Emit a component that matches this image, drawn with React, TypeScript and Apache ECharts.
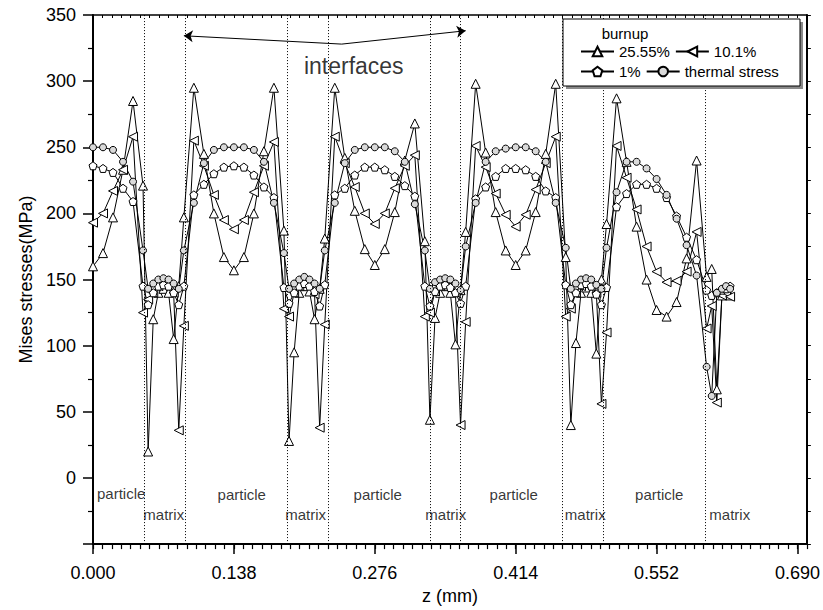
import React, { useEffect, useRef } from "react";
import * as echarts from "echarts";

const FONT = "'Liberation Sans', Arial, Helvetica, sans-serif";

// position along z (mm)
const zMm = [
  0, 0.0098, 0.0196, 0.0294, 0.0392,
  0.049, 0.054, 0.059, 0.064, 0.069, 0.074, 0.079, 0.084, 0.089,
  0.0988, 0.1086, 0.1184, 0.1282, 0.138, 0.1478, 0.1576, 0.1674, 0.1772,
  0.187, 0.192, 0.197, 0.202, 0.207, 0.212, 0.217, 0.222, 0.227,
  0.2368, 0.2466, 0.2564, 0.2662, 0.276, 0.2858, 0.2956, 0.3054, 0.3152,
  0.325, 0.33, 0.335, 0.34, 0.345, 0.35, 0.355, 0.36, 0.365,
  0.3748, 0.3846, 0.3944, 0.4042, 0.414, 0.4238, 0.4336, 0.4434, 0.4532,
  0.463, 0.468, 0.473, 0.478, 0.483, 0.488, 0.493, 0.498, 0.503,
  0.5128, 0.5226, 0.5324, 0.5422, 0.552, 0.5618, 0.5716, 0.5814, 0.5912,
  0.601, 0.606, 0.611, 0.616, 0.62, 0.624,
];

// burnup 25.55%
const burnup2555 = [
  160, 170, 197, 233, 285,
  221, 20, 120, 140, 143, 140, 105, 145, 197,
  295, 245, 200, 167, 157, 167, 200, 247, 295,
  187, 28, 95, 140, 145, 141, 120, 143, 181,
  295, 242, 202, 173, 161, 173, 201, 240, 268,
  179, 44, 121, 140, 145, 140, 101, 142, 186,
  298, 246, 201, 172, 161, 172, 201, 245, 298,
  167, 40, 102, 140, 144, 140, 94, 150, 192,
  287, 239, 190, 150, 127, 122, 133, 166, 240,
  152, 158, 67, 138, 140, 138,
];

// burnup 10.1%
const burnup101 = [
  193, 200, 217, 233, 258,
  125, 135, 140, 145, 147, 145, 140, 36, 115,
  255, 236, 214, 195, 188, 195, 216, 236, 254,
  128, 122, 140, 145, 147, 145, 139, 38, 116,
  258, 238, 220, 200, 192, 200, 219, 236, 244,
  122, 125, 141, 145, 147, 145, 140, 40, 118,
  251, 235, 215, 199, 190, 199, 218, 238, 258,
  122, 128, 140, 145, 146, 145, 140, 56, 110,
  251, 227, 203, 175, 156, 148, 149, 156, 186,
  113, 130, 57, 138, 140, 137,
];

// burnup 1%
const burnup1 = [
  236, 234, 231, 219, 209,
  145, 131, 140, 145, 146, 145, 140, 131, 145,
  214, 222, 230, 235, 236, 235, 229, 220, 212,
  144, 132, 140, 145, 147, 145, 141, 130, 146,
  214, 219, 229, 235, 235, 233, 228, 221, 213,
  145, 130, 141, 145, 146, 144, 140, 132, 145,
  211, 220, 228, 234, 234, 233, 228, 217, 212,
  146, 131, 140, 146, 147, 145, 139, 131, 144,
  205, 215, 222, 222, 219, 212, 198, 182, 165,
  142, 138, 140, 142, 143, 145,
];

// thermal stress
const thermal = [
  250, 250, 248, 239, 224,
  172, 143, 147, 150, 151, 150, 147, 143, 172,
  208, 238, 248, 250, 250, 250, 248, 239, 208,
  170, 143, 147, 150, 152, 150, 147, 143, 172,
  208, 238, 248, 250, 250, 250, 247, 239, 207,
  172, 143, 148, 150, 151, 150, 147, 142, 175,
  208, 239, 247, 249, 250, 250, 247, 239, 208,
  174, 143, 147, 150, 151, 150, 146, 143, 174,
  216, 239, 239, 234, 226, 214, 196, 176, 153,
  84, 62, 140, 143, 145, 143,
];

const seriesNames = ["25.55%", "10.1%", "1%", "thermal stress"];
const interfaceZ = [0.049, 0.089, 0.187, 0.227, 0.325, 0.365, 0.463, 0.503, 0.601];
const xMajorTicks = [0, 0.138, 0.276, 0.414, 0.552, 0.69];
const particleLabelPos = [
  [0.0276, -11.5],
  [0.1457, -12.5],
  [0.2789, -12.5],
  [0.4121, -12.5],
  [0.5546, -12.5],
];
const matrixLabelPos = [
  [0.0693, -27.4],
  [0.2083, -27.4],
  [0.3455, -27.4],
  [0.4821, -27.4],
  [0.6237, -28],
];
const interfacesLabelPos = [0.2554, 311.5];
const arrowPts = [
  [0.089, 334.3],
  [0.2436, 328],
  [0.365, 338.1],
];

const PENTAGON = "path://M0,-10L9.51,-3.09L5.88,8.09L-5.88,8.09L-9.51,-3.09Z";

function makeLine(name: string, values: number[], symbol: string, size: number, fill: string, rotate = 0) {
  return {
    name,
    type: "line",
    data: zMm.map((z, i) => [z, values[i]]),
    symbol,
    symbolSize: size,
    symbolRotate: rotate,
    showAllSymbol: true,
    lineStyle: { color: "#000", width: 1 },
    itemStyle: { color: fill, borderColor: "#000", borderWidth: 1 },
    emphasis: { disabled: true },
    z: 3,
  };
}

export default function App() {
  const ref = useRef<HTMLDivElement>(null);
  useEffect(() => {
    if (!ref.current) return;
    const chart = echarts.init(ref.current, undefined, { renderer: "svg" });
    const axisText = { color: "#000", fontSize: 18, fontFamily: FONT };
    const option: any = {
      animation: false,
      backgroundColor: "#fff",
      grid: { left: 93, right: 15, top: 15, bottom: 65 },
      xAxis: [
        {
          type: "value",
          position: "bottom",
          min: 0,
          max: 0.6992,
          name: "z (mm)",
          nameLocation: "middle",
          nameGap: 42,
          nameTextStyle: { ...axisText },
          axisLine: { show: true, onZero: false, lineStyle: { color: "#000", width: 2 } },
          axisTick: { show: true, customValues: xMajorTicks, length: 10, lineStyle: { color: "#000", width: 1.5 } },
          axisLabel: {
            show: true,
            customValues: xMajorTicks,
            formatter: (v: number) => v.toFixed(3),
            margin: 20,
            ...axisText,
          },
          splitLine: { show: false },
        },
        {
          type: "value",
          position: "bottom",
          min: 0,
          max: 0.6992,
          interval: 0.0092,
          axisLine: { show: false, onZero: false },
          axisTick: { show: true, length: 5, lineStyle: { color: "#000", width: 1.2 } },
          axisLabel: { show: false },
          splitLine: { show: false },
        },
        {
          type: "value",
          position: "top",
          min: 0,
          max: 0.6992,
          interval: 0.0092,
          axisLine: { show: true, onZero: false, lineStyle: { color: "#000", width: 1.5 } },
          axisTick: { show: true, inside: true, length: 3, lineStyle: { color: "#000", width: 1 } },
          axisLabel: { show: false },
          splitLine: { show: false },
        },
      ],
      yAxis: [
        {
          type: "value",
          position: "left",
          min: -50,
          max: 350,
          interval: 50,
          name: "Mises stresses(MPa)",
          nameLocation: "middle",
          nameGap: 52,
          nameTextStyle: { ...axisText },
          axisLine: { show: true, onZero: false, lineStyle: { color: "#000", width: 2 } },
          axisTick: { show: true, length: 10, lineStyle: { color: "#000", width: 1.5 } },
          minorTick: { show: true, splitNumber: 2, length: 5, lineStyle: { color: "#000", width: 1.2 } },
          axisLabel: {
            formatter: (v: number) => (v < 0 ? "" : String(v)),
            margin: 17,
            ...axisText,
          },
          splitLine: { show: false },
          minorSplitLine: { show: false },
        },
        {
          type: "value",
          position: "right",
          min: -50,
          max: 350,
          interval: 25,
          axisLine: { show: true, onZero: false, lineStyle: { color: "#000", width: 2 } },
          axisTick: { show: true, length: 4, lineStyle: { color: "#000", width: 1 } },
          axisLabel: { show: false },
          splitLine: { show: false },
        },
      ],
      legend: {
        data: seriesNames,
        left: 580,
        top: 44,
        width: 210,
        padding: 0,
        itemWidth: 33,
        itemHeight: 12,
        itemGap: 5,
        selectedMode: false,
        textStyle: { color: "#000", fontSize: 15, fontFamily: FONT },
        z: 60,
      },
      graphic: [
        { type: "rect", z: 50, shape: { x: 566, y: 22, width: 237, height: 67 }, style: { fill: "#8a8a8a" } },
        {
          type: "rect",
          z: 51,
          shape: { x: 563, y: 19, width: 237, height: 67 },
          style: { fill: "#fff", stroke: "#000", lineWidth: 1 },
        },
        {
          type: "text",
          z: 52,
          x: 625,
          y: 33,
          style: { text: "burnup", fontSize: 15, fontFamily: FONT, fill: "#000", align: "center", verticalAlign: "middle" },
        },
      ],
      series: [
        {
          ...makeLine(seriesNames[0], burnup2555, "triangle", 9, "#fff"),
          markLine: {
            silent: true,
            symbol: "none",
            label: { show: false },
            lineStyle: { type: [1, 2], color: "#000", width: 1 },
            emphasis: { disabled: true },
            data: interfaceZ.map((z) => ({ xAxis: z })),
          },
        },
        makeLine(seriesNames[1], burnup101, "triangle", 9, "#fff", 90),
        makeLine(seriesNames[2], burnup1, PENTAGON, 8, "#fff"),
        makeLine(seriesNames[3], thermal, "circle", 7, "#dadada"),
        {
          name: "annotations",
          type: "scatter",
          silent: true,
          symbol: "circle",
          symbolSize: 1,
          itemStyle: { color: "rgba(0,0,0,0)" },
          label: { show: true, position: "inside", color: "#000", fontSize: 15, fontFamily: FONT },
          data: [
            ...particleLabelPos.map((p) => ({ value: p, label: { formatter: "particle" } })),
            ...matrixLabelPos.map((p) => ({ value: p, label: { formatter: "matrix" } })),
            { value: interfacesLabelPos, label: { formatter: "interfaces", fontSize: 23 } },
          ],
          markLine: {
            silent: true,
            label: { show: false },
            symbolSize: 9,
            lineStyle: { type: "solid", color: "#000", width: 1 },
            emphasis: { disabled: true },
            data: [
              [
                { coord: arrowPts[0], symbol: "arrow" },
                { coord: arrowPts[1], symbol: "none" },
              ],
              [
                { coord: arrowPts[1], symbol: "none" },
                { coord: arrowPts[2], symbol: "arrow" },
              ],
            ],
          },
          z: 4,
        },
      ],
    };
    chart.setOption(option);
    return () => chart.dispose();
  }, []);
  return <div ref={ref} style={{ position: "fixed", left: 0, top: 0, width: 823, height: 610 }} />;
}
